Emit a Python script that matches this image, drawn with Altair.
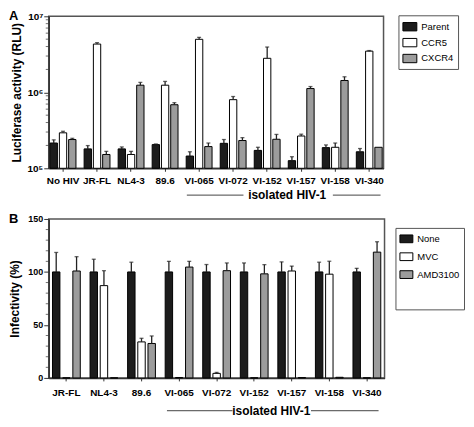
import altair as alt
import pandas as pd

FONT = "Liberation Sans"

# ---------------- Panel A data ----------------
cats_a = ["No HIV", "JR-FL", "NL4-3", "89.6", "VI-065", "VI-072", "VI-152", "VI-157", "VI-158", "VI-340"]
series_a = ["Parent", "CCR5", "CXCR4"]
parent_a = [2.15e5, 1.80e5, 1.80e5, 2.05e5, 1.45e5, 2.13e5, 1.72e5, 1.26e5, 1.87e5, 1.65e5]
parent_a_err = [2.37e5, 1.99e5, 1.91e5, 2.09e5, 1.65e5, 2.39e5, 1.89e5, 1.42e5, 2.03e5, 1.82e5]
ccr5_a = [2.93e5, 4.31e6, 1.52e5, 1.24e6, 4.98e6, 8.0e5, 2.8e6, 2.66e5, 1.89e5, 3.48e6]
ccr5_a_err = [3.07e5, 4.5e6, 1.67e5, 1.39e6, 5.28e6, 8.8e5, 3.94e6, 2.81e5, 2.15e5, 3.54e6]
cxcr4_a = [2.39e5, 1.52e5, 1.24e6, 6.86e5, 1.93e5, 2.32e5, 2.41e5, 1.12e6, 1.43e6, 1.89e5]
cxcr4_a_err = [2.48e5, 1.67e5, 1.35e6, 7.3e5, 2.15e5, 2.53e5, 2.79e5, 1.19e6, 1.6e6, None]
major_a = [1e5, 1e6, 1e7]
minor_a = [2e5, 3e5, 4e5, 5e5, 6e5, 7e5, 8e5, 9e5, 2e6, 3e6, 4e6, 5e6, 6e6, 7e6, 8e6, 9e6]
base_a = 1e5

# ---------------- Panel B data ----------------
cats_b = ["JR-FL", "NL4-3", "89.6", "VI-065", "VI-072", "VI-152", "VI-157", "VI-158", "VI-340"]
series_b = ["None", "MVC", "AMD3100"]
none_b = [100, 100, 100, 100, 100, 100, 100, 100, 100]
none_b_err = [118.4, 112, 109.2, 110, 107, 108.5, 109.5, 109.2, 103.4]
mvc_b = [0, 87.1, 34.0, 0.4, 4.3, 0, 100.9, 97.9, 0]
mvc_b_err = [None, 101.2, 37.4, None, 5.2, None, 105.5, 110.1, None]
amd_b = [100.9, 0, 32.5, 104.6, 101.2, 98.2, 0.3, 0.6, 118.7]
amd_b_err = [114.4, None, 39.6, 110, 108.5, 106.9, None, None, 128.5]
major_b = [0, 50, 100, 150]
minor_b = [10, 20, 30, 40, 60, 70, 80, 90, 110, 120, 130, 140]
base_b = 0

fills = ["#1c1c1c", "#ffffff", "#9c9c9c"]


def long_df(cats, series, vals, errs):
    rows = []
    for s, v, e in zip(series, vals, errs):
        for c, vv, ee in zip(cats, v, e):
            rows.append({"cat": c, "series": s, "val": vv, "err": ee})
    return pd.DataFrame(rows)


df_a = long_df(cats_a, series_a, [parent_a, ccr5_a, cxcr4_a], [parent_a_err, ccr5_a_err, cxcr4_a_err])
df_b = long_df(cats_b, series_b, [none_b, mvc_b, amd_b], [none_b_err, mvc_b_err, amd_b_err])

W_A, H_A = 337, 153
W_B, H_B = 338, 160
SQ = "M-1,-0.6H1V0.6H-1Z"


def panel(df, cats, series, W, H, yscale, yaxis, base_val, minor, legend, xpadI, xpadO, offpad,
          label_pad, letter, iso_text_x, iso_rules, iso_y):
    xenc = alt.X("cat:N", sort=cats,
                 scale=alt.Scale(domain=cats, paddingInner=xpadI, paddingOuter=xpadO),
                 axis=alt.Axis(title=None, labelAngle=0, labelFontWeight="bold", labelFontSize=10,
                               labelColor="black", tickSize=3, labelPadding=label_pad,
                               domainColor="#333", tickColor="#333", domainWidth=1.5))
    xoff = alt.XOffset("series:N", sort=series, scale=alt.Scale(domain=series, paddingInner=offpad))
    fill = alt.Fill("series:N", sort=series, scale=alt.Scale(domain=series, range=fills), legend=legend)
    yenc = alt.Y("val:Q", scale=yscale, axis=yaxis)
    base = alt.Chart(df)
    bars = base.mark_bar(stroke="black", strokeWidth=1).encode(
        x=xenc, xOffset=xoff, y=yenc, y2=alt.datum(base_val), fill=fill)
    eb = base.transform_filter("isValid(datum.err)")
    rules = eb.mark_rule(color="#222", strokeWidth=1.3).encode(
        x=xenc, xOffset=xoff, y=yenc, y2=alt.Y2("err:Q"))
    caps = eb.mark_tick(orient="horizontal", size=4, thickness=1.3, color="#222").encode(
        x=xenc, xOffset=xoff, y=alt.Y("err:Q", scale=yscale, axis=yaxis))
    minor_ticks = alt.Chart(pd.DataFrame({"m": minor})).mark_tick(
        orient="horizontal", size=3, thickness=1, color="#333").encode(
        x=alt.value(-1.5), y=alt.Y("m:Q", scale=yscale, axis=yaxis))
    one = alt.Chart(pd.DataFrame({"t": [letter], "iso": ["isolated HIV-1"]}))
    letter_mark = one.mark_text(align="left", baseline="top", fontSize=13, fontWeight="bold",
                                font=FONT, color="black").encode(
        text="t:N", x=alt.value(-40), y=alt.value(-6))
    iso = one.mark_text(align="center", baseline="middle", fontSize=12, fontWeight="bold",
                        font=FONT, color="black").encode(
        text="iso:N", x=alt.value(iso_text_x), y=alt.value(iso_y))
    r1 = one.mark_rule(color="#444", strokeWidth=1).encode(
        x=alt.value(iso_rules[0]), x2=alt.value(iso_rules[1]), y=alt.value(iso_y))
    r2 = one.mark_rule(color="#444", strokeWidth=1).encode(
        x=alt.value(iso_rules[2]), x2=alt.value(iso_rules[3]), y=alt.value(iso_y))
    return alt.layer(bars, rules, caps, minor_ticks, letter_mark, iso, r1, r2).properties(width=W, height=H)


# ---- Panel A axes
ya_axis = alt.Axis(
    values=major_a, grid=False, labelOverlap=False,
    labelExpr="datum.value == 100000 ? '10\u2075' : datum.value == 1000000 ? '10\u2076' : '10\u2077'",
    tickSize=5,
    title="Luciferase activity (RLU)", titleFontSize=12, titleFontWeight="bold", titlePadding=4,
    labelFontWeight="bold", labelFontSize=10, labelColor="black", labelPadding=1,
    domainColor="#333", tickColor="#333", domainWidth=1.5)
ya_scale = alt.Scale(type="log", domain=[1e5, 1e7], nice=False)
legend_a = alt.Legend(title=None, orient="none", legendX=352, legendY=-1, symbolType=SQ, symbolSize=196,
                      symbolStrokeColor="black", symbolStrokeWidth=1, labelFontSize=9.5, labelOffset=4,
                      rowPadding=2, padding=4, strokeColor="#555", fillColor="white", labelColor="black")

chart_a = panel(df_a, cats_a, series_a, W_A, H_A, ya_scale, ya_axis, base_a, minor_a,
                legend_a, 0.24, 0.04, 0.21, 4, "A",
                240, [139, 196, 286, 334], H_A + 27)

# ---- Panel B axes
yb_axis = alt.Axis(
    values=major_b, grid=False, labelOverlap=False, format="d",
    tickSize=5,
    title="Infectivity (%)", titleFontSize=12, titleFontWeight="bold", titlePadding=6,
    labelFontWeight="bold", labelFontSize=9, labelColor="black", labelPadding=1,
    domainColor="#333", tickColor="#333", domainWidth=1.5)
yb_scale = alt.Scale(domain=[0, 150], nice=False)
legend_b = alt.Legend(title=".", titleOrient="bottom", titleFontSize=22, titlePadding=4, titleColor="white",
                      orient="none", legendX=349, legendY=9, symbolType=SQ, symbolSize=169,
                      symbolStrokeColor="black", symbolStrokeWidth=1, labelFontSize=9.5, labelOffset=4,
                      rowPadding=5, padding=4, strokeColor="#555", fillColor="white", labelColor="black")

chart_b = panel(df_b, cats_b, series_b, W_B, H_B, yb_scale, yb_axis, base_b, minor_b,
                legend_b, 0.26, 0.1, 0.27, 7, "B",
                224, [119, 185, 264, 332], H_B + 33)

chart = alt.vconcat(chart_a, chart_b, spacing=10).resolve_scale(
    x="independent", y="independent", fill="independent", xOffset="independent"
).resolve_legend(fill="independent").properties(padding=0).configure(
    font=FONT
).configure_view(
    stroke="#555", strokeWidth=1.5
).configure_axis(
    labelFont=FONT, titleFont=FONT, titleColor="black"
).configure_legend(
    labelFont=FONT, titleFont=FONT
)

chart.save("out.html", embed_options={"renderer": "svg", "actions": False})
